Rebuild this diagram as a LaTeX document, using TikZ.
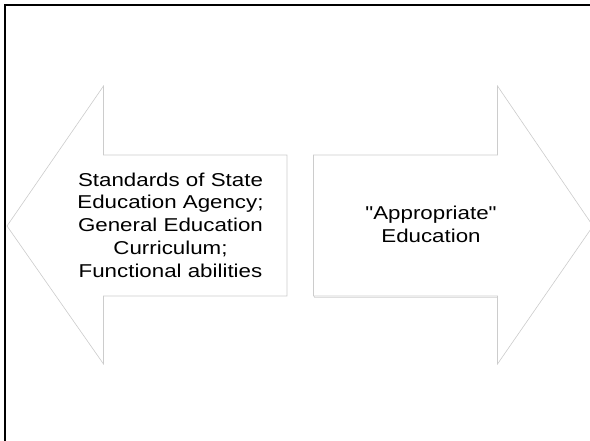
\documentclass[tikz,border=0pt]{standalone}
\usepackage{fontspec}
\setmainfont{Liberation Sans}
\newfontfamily\widesans{Liberation Sans}[FakeStretch=1.2]
\begin{document}
\begin{tikzpicture}[
        x=1pt, y=-1pt,
        frame/.style={draw=black, line width=2pt}, % outer border, only top and left show
        outline/.style={draw=gray!40, line width=0.6pt, fill=white, line join=miter}, % arrow outline
        shadow/.style={draw=gray!25, line width=1.2pt}, % soft edge under the shaft
        label/.style={align=center, inner sep=0pt, font=\widesans\fontsize{18.6}{22.8}\selectfont}
    ]
    \useasboundingbox (0,0) rectangle (590,441);
    \begin{scope}
        \clip (0,0) rectangle (590,441);
        \draw[frame] (5,460) -- (5,5) -- (610,5);
        % left arrow
        \draw[outline] (7,226) -- (103.5,86) -- (103.5,155) -- (287,155)
            -- (287,296) -- (103.5,296) -- (103.5,364) -- cycle;
        % right arrow
        \draw[shadow] (314.5,156) -- (314.5,297.5) -- (497.5,297.5);
        \draw[outline] (313.5,155) -- (497.5,155) -- (497.5,86) -- (593,226)
            -- (497.5,364) -- (497.5,296) -- (313.5,296) -- cycle;
    \end{scope}
    \node[label] (standards) at (170.5,225) {Standards of State\\Education Agency;\\General Education\\Curriculum;\\Functional abilities};
    \node[label] (appropriate) at (431,224) {"Appropriate"\\Education};
\end{tikzpicture}
\end{document}
